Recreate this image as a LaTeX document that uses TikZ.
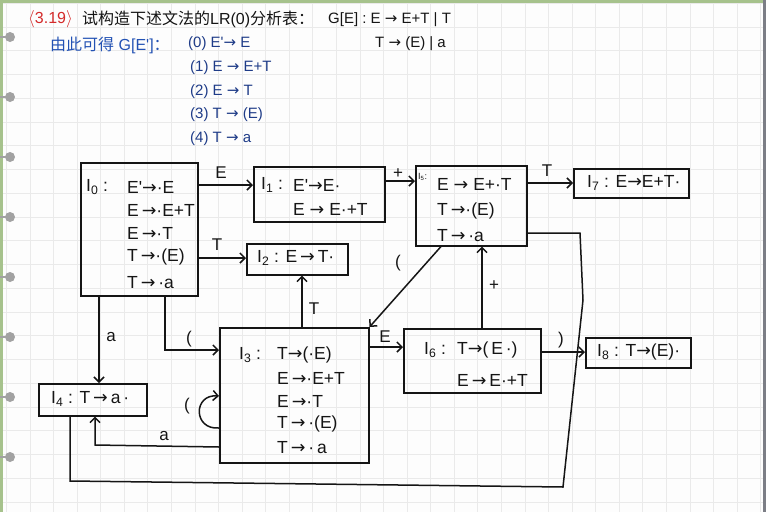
\documentclass[tikz,border=0pt]{standalone}
\usepackage{fontspec}
\newfontfamily\hw{Liberation Sans}
\newfontfamily\arw{DejaVu Sans}
\newfontfamily\cjk{Noto Sans CJK SC}
\newcommand\rarr{{\arw →}}
\usetikzlibrary{arrows.meta}
\definecolor{ink}{HTML}{151515}
\definecolor{gridc}{HTML}{EAEAEA}
\definecolor{paper}{HTML}{FDFDFD}
\definecolor{greenb}{HTML}{A6C28C}
\definecolor{holec}{HTML}{A2A2A2}
\definecolor{rightb}{HTML}{7C7E86}
\definecolor{redt}{HTML}{D42A2A}
\definecolor{bluet}{HTML}{2352B4}
\definecolor{navyt}{HTML}{1F3C88}
\tikzset{
  box/.style={draw=ink, line width=1.5pt, inner sep=0pt, anchor=north west},
  arr/.style={draw=ink, line width=1.5pt, -{Straight Barb[length=5pt,width=10pt]}},
  ln/.style={draw=ink, line width=1.5pt},
  txt/.style={font=\hw\fontsize{17.5}{20}\selectfont, text=ink, inner sep=0pt, anchor=west},
  hdr/.style={font=\hw\fontsize{15}{18}\selectfont, text=ink, inner sep=0pt, anchor=west},
  lab/.style={font=\hw\fontsize{17}{19}\selectfont, text=ink, inner sep=0pt},
}
\begin{document}
\begin{tikzpicture}[x=1pt,y=-1pt]
\useasboundingbox (0,0) rectangle (766,512);
\fill[paper] (0,0) rectangle (766,512);
% grid
\foreach \k in {0,...,32} \draw[gridc, line width=0.8pt] ({6.4+23.57*\k},0) -- ({6.4+23.57*\k},512);
\foreach \k in {0,...,21} \draw[gridc, line width=0.8pt] (0,{3.3+23.75*\k}) -- (766,{3.3+23.75*\k});
% borders
\fill[greenb] (0,0) rectangle (766,2.5);
\fill[greenb] (0,0) rectangle (2.5,512);
\fill[rightb] (763,0) rectangle (766,512);
% binder holes
\foreach \y in {37,97,157,217,277,337,397,457} {
  \draw[holec, line width=1.8pt] (0,\y) -- (8,\y);
  \fill[holec] (10,\y) circle (5);
}
% header
\node[hdr, text=redt, font=\hw\fontsize{16}{18}\selectfont] (num) at (28,19) {$\langle$3.19$\rangle$};
\node[hdr, font=\hw\fontsize{16}{18}\selectfont] (title) at (82,19) {{\cjk 试构造下述文法的}LR(0){\cjk 分析表：}};
\node[hdr] (g1) at (328,20) {G[E] : E \rarr\ E+T | T};
\node[hdr] (g2) at (375,44) {T \rarr\ (E) | a};
\node[hdr, text=bluet, font=\hw\fontsize{16}{18}\selectfont] (aug) at (50,45) {{\cjk 由此可得} G[E']{\cjk ：}};
\node[hdr, text=navyt] (p0) at (188,44) {(0) E'\rarr\ E};
\node[hdr, text=navyt] (p1) at (190,68) {(1) E \rarr\ E+T};
\node[hdr, text=navyt] (p2) at (190,92) {(2) E \rarr\ T};
\node[hdr, text=navyt] (p3) at (190,115) {(3) T \rarr\ (E)};
\node[hdr, text=navyt] (p4) at (190,139) {(4) T \rarr\ a};
% boxes
\node[box, minimum width=117, minimum height=133] (I0) at (80,162) {};
\node[box, minimum width=131, minimum height=55] (I1) at (253,166) {};
\node[box, minimum width=101, minimum height=31] (I2) at (246,243) {};
\node[box, minimum width=111, minimum height=80] (I5) at (415,165) {};
\node[box, minimum width=115, minimum height=29] (I7) at (573,168) {};
\node[box, minimum width=108, minimum height=32] (I4) at (38,383) {};
\node[box, minimum width=149, minimum height=135] (I3) at (219,327) {};
\node[box, minimum width=137, minimum height=64] (I6) at (403,328) {};
\node[box, minimum width=105, minimum height=30] (I8) at (585,337) {};
% box texts
\node[txt] (t0n) at (86,187) {I\textsubscript{0} :};
\node[txt] (t0a) at (127,187) {E'\rarr·E};
\node[txt] (t0b) at (127,210) {E\,\rarr·E+T};
\node[txt] (t0c) at (127,233) {E\,\rarr·T};
\node[txt] (t0d) at (127,257) {T\,\rarr·(E)};
\node[txt] (t0e) at (127,283) {T\,\rarr\,·a};
\node[txt] (t1n) at (261,185) {I\textsubscript{1} :};
\node[txt] (t1a) at (293,185) {E'\rarr E·};
\node[txt] (t1b) at (293,209) {E \rarr\ E·+T};
\node[txt] (t2) at (257,258) {I\textsubscript{2} : E\,\rarr\,T·};
\node[txt, font=\hw\fontsize{9}{10}\selectfont] (t5n) at (418,177) {I\textsubscript{5}:};
\node[txt] (t5a) at (437,184) {E \rarr\ E+·T};
\node[txt] (t5b) at (437,211) {T\,\rarr·(E)};
\node[txt] (t5c) at (437,236) {T\,\rarr\,·a};
\node[txt] (t7) at (587,183) {I\textsubscript{7} : E\rarr E+T·};
\node[txt] (t4) at (51,399) {I\textsubscript{4} : T\,\rarr\,a\,·};
\node[txt] (t3n) at (239,355) {I\textsubscript{3} :};
\node[txt] (t3a) at (277,355) {T\rarr(·E)};
\node[txt] (t3b) at (277,378) {E\,\rarr·E+T};
\node[txt] (t3c) at (277,401) {E\,\rarr·T};
\node[txt] (t3d) at (277,424) {T\,\rarr\,·(E)};
\node[txt] (t3e) at (277,448) {T\,\rarr\,·\,a};
\node[txt] (t6n) at (424,350) {I\textsubscript{6} :};
\node[txt] (t6a) at (457,350) {T\rarr(\,E\,·)};
\node[txt] (t6b) at (457,380) {E\,\rarr\,E·+T};
\node[txt] (t8) at (597,352) {I\textsubscript{8} : T\rarr(E)·};
% edges
\draw[arr] (I0.east |- 0,185) -- (I1.west |- 0,185);
\node[lab] (lE01) at (221,173) {E};
\draw[arr] (I0.east |- 0,258) -- (I2.west |- 0,258);
\node[lab] (lT02) at (217,245) {T};
\draw[arr] (I1.east |- 0,181) -- (I5.west |- 0,181);
\node[lab] (lp15) at (398,174) {+};
\draw[arr] (I5.east |- 0,183) -- (I7.west |- 0,183);
\node[lab] (lT57) at (547,171) {T};
\draw[arr] (I5.south -| 441,0) -- (I3.north east);
\node[lab] (l53) at (398,263) {(};
\draw[arr] (I3.north -| 302,0) -- (I2.south -| 302,0);
\node[lab] (lT32) at (314,309) {T};
\draw[arr] (I6.north -| 482,0) -- (I5.south -| 482,0);
\node[lab] (lp65) at (494,286) {+};
\draw[arr] (I3.east |- 0,347) -- (I6.west |- 0,347);
\node[lab] (lE36) at (385,337) {E};
\draw[arr] (I6.east |- 0,352) -- (I8.west |- 0,352);
\node[lab] (lr68) at (561,340) {)};
\draw[arr] (I0.south -| 99,0) -- (I4.north -| 99,0);
\node[lab] (la04) at (111,337) {a};
\draw[arr] (I0.south -| 165,0) -- (165,350) -- (I3.west |- 0,350);
\node[lab] (l03) at (189,339) {(};
\draw[arr] (I3.west |- 0,428) .. controls (193,430) and (193,394) .. (I3.west |- 0,396);
\node[lab] (l33) at (187,406) {(};
\draw[arr] (I3.west |- 0,447) -- (95,445) -- (I4.south -| 95,0);
\node[lab] (la34) at (164,436) {a};
\draw[ln] (I5.east |- 0,233) -- (580,233) -- (583,300) -- (563,487) -- (70,481) -- (I4.south -| 70,0);
\end{tikzpicture}
\end{document}
